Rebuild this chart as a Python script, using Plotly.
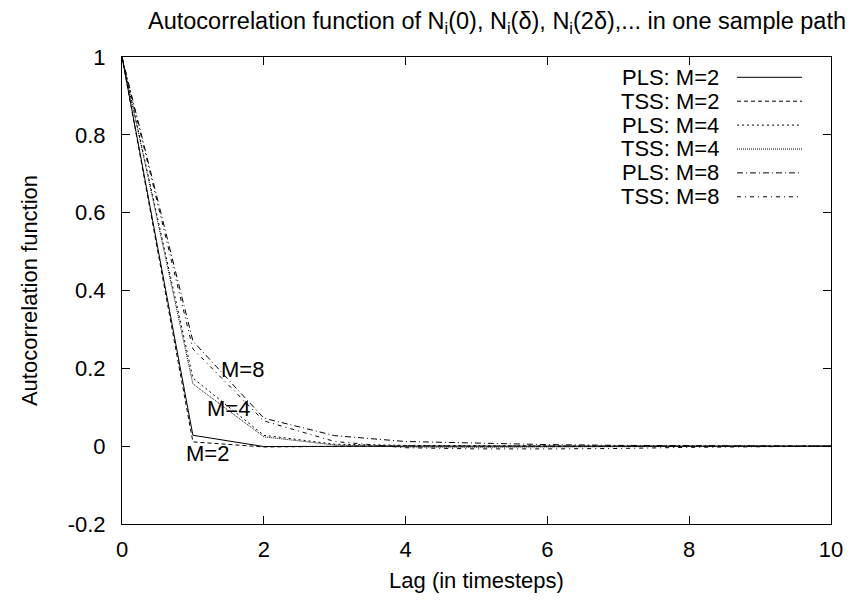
import plotly.graph_objects as go

lags = [0, 1, 2, 3, 4, 5, 6, 7, 8, 9, 10]
pls_m2 = [1.0, 0.028, -0.001, 0.0, 0.0, 0.0, 0.0, 0.0, 0.0, 0.0, 0.0]
tss_m2 = [1.0, 0.011, -0.002, 0.0, 0.001, 0.0, 0.0, 0.0, 0.0, 0.0, 0.0]
pls_m4 = [1.0, 0.175, 0.028, 0.005, 0.002, 0.001, 0.0, 0.0, 0.0, 0.0, 0.0]
tss_m4 = [1.0, 0.160, 0.024, 0.003, -0.002, -0.003, -0.002, -0.001, 0.0, 0.0, 0.0]
pls_m8 = [1.0, 0.270, 0.072, 0.027, 0.012, 0.008, 0.004, 0.002, 0.001, 0.0, 0.0]
tss_m8 = [1.0, 0.250, 0.065, 0.012, -0.004, -0.007, -0.007, -0.006, -0.003, -0.001, 0.0]

series_names = ["PLS: M=2", "TSS: M=2", "PLS: M=4", "TSS: M=4", "PLS: M=8", "TSS: M=8"]
series_values = [pls_m2, tss_m2, pls_m4, tss_m4, pls_m8, tss_m8]
dashes = ["solid", "4px,3px", "2px,3px", "1px,1px", "6px,3px,1px,3px", "4px,4px,1px,4px"]

label_texts = ["M=2", "M=4", "M=8"]
label_x = [1.2, 1.5, 1.7]
label_y = [-0.018, 0.098, 0.198]

x_ticks = [0, 2, 4, 6, 8, 10]
y_ticks = [-0.2, 0, 0.2, 0.4, 0.6, 0.8, 1]
y_tick_text = ["-0.2", "0", "0.2", "0.4", "0.6", "0.8", "1"]

FONT = "Liberation Sans, Arial, sans-serif"
FS = 22

fig = go.Figure()
for name, vals, d in zip(series_names, series_values, dashes):
    fig.add_trace(go.Scatter(x=lags, y=vals, mode="lines", name=name,
                             line=dict(color="black", width=1, dash=d),
                             showlegend=False))

for t, x, y in zip(label_texts, label_x, label_y):
    fig.add_annotation(x=x, y=y, text=t, showarrow=False, xref="x", yref="y",
                       font=dict(family=FONT, size=FS, color="black"))

# Manual gnuplot-style legend (text right, line sample to its right)
L, R, T, B = 122, 831, 57, 524
W, H = R - L, B - T
row_y0 = 77.3
row_dy = 23.9
for i, (name, d) in enumerate(zip(series_names, dashes)):
    py = row_y0 + i * row_dy
    yp = 1 - (py - T) / H
    fig.add_annotation(x=(721 - L) / W, y=yp, xref="paper", yref="paper",
                       text=name, showarrow=False, xanchor="right", yanchor="middle",
                       font=dict(family=FONT, size=FS, color="black"))
    fig.add_shape(type="line", xref="paper", yref="paper",
                  x0=(737 - L) / W, x1=(802 - L) / W, y0=yp, y1=yp,
                  line=dict(color="black", width=1, dash=d))

fig.add_annotation(x=(497 - L) / W, y=1 - (22 - T) / H, xref="paper", yref="paper",
                   text="Autocorrelation function of N<sub>i</sub>(0), N<sub>i</sub>(δ), N<sub>i</sub>(2δ),... in one sample path",
                   showarrow=False, xanchor="center", yanchor="middle",
                   font=dict(family=FONT, size=23.5, color="black"))

axis_common = dict(showline=True, linecolor="black", linewidth=1, mirror="allticks",
                   ticks="inside", ticklen=8, tickcolor="black", tickwidth=1,
                   showgrid=False, zeroline=False,
                   tickfont=dict(family=FONT, size=FS, color="black"))

fig.update_xaxes(range=[0, 10], tickvals=x_ticks, ticktext=[str(v) for v in x_ticks],
                 ticklabelstandoff=6,
                 title=dict(text="Lag (in timesteps)", font=dict(family=FONT, size=FS, color="black"), standoff=11),
                 **axis_common)
fig.update_yaxes(range=[-0.2, 1], tickvals=y_ticks, ticktext=y_tick_text,
                 ticklabelstandoff=11,
                 title=dict(text="Autocorrelation function", font=dict(family=FONT, size=FS, color="black"), standoff=23),
                 **axis_common)

fig.update_layout(width=856, height=605, margin=dict(l=L, r=856 - R, t=T, b=605 - B),
                  plot_bgcolor="white", paper_bgcolor="white", showlegend=False)

fig.write_html("out.html")
